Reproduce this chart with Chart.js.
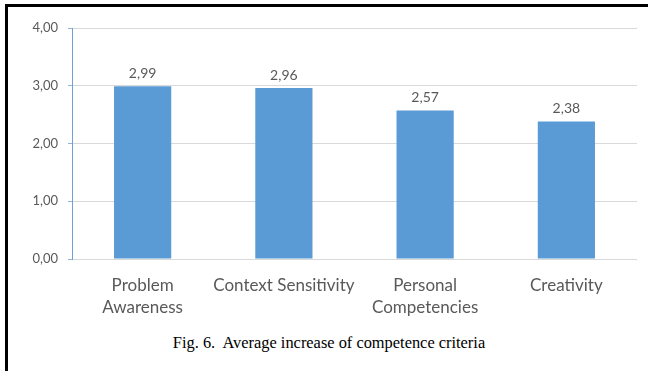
<!DOCTYPE html>
<html>
<head>
<meta charset="utf-8">
<script src="https://cdn.jsdelivr.net/npm/chart.js@4"></script>
<style>
  html, body { margin: 0; padding: 0; background: #fff; }
  body { width: 648px; height: 371px; position: relative; overflow: hidden; }
  #frame { position: absolute; left: 5px; top: 4px; width: 700px; height: 400px;
           border-left: 3px solid #000; border-top: 3px solid #000; }
  #wrap { position: absolute; left: 0; top: 0; width: 648px; height: 330px; }
  #caption { position: absolute; left: 0; width: 658px; top: 333px; text-align: center;
             font-family: "Liberation Serif", "Times New Roman", serif; font-size: 16.4px;
             color: #000; white-space: pre; }
</style>
</head>
<body>
<div id="frame"></div>
<div id="wrap"><canvas id="chart" width="648" height="330"></canvas></div>
<div id="caption">Fig. 6.  Average increase of competence criteria</div>
<script>
// Competence criteria and their average increase
const categories = [
  ['Problem', 'Awareness'],
  'Context Sensitivity',
  ['Personal', 'Competencies'],
  'Creativity'
];
const averageIncrease = [2.99, 2.96, 2.57, 2.38];
const yTicks = [0, 1, 2, 3, 4];

const fmt = v => v.toFixed(2).replace('.', ',');
const textGray = '#595959';
const barBlue = '#5b9bd5';
const font = 'Lato, "Open Sans", sans-serif';

// Writes each bar's value just above it
const valueLabels = {
  id: 'valueLabels',
  afterDatasetsDraw(chart) {
    const ctx = chart.ctx;
    const meta = chart.getDatasetMeta(0);
    ctx.save();
    ctx.fillStyle = textGray;
    ctx.font = '14px ' + font;
    ctx.textAlign = 'center';
    ctx.textBaseline = 'bottom';
    meta.data.forEach((bar, i) => {
      ctx.fillText(fmt(chart.data.datasets[0].data[i]), bar.x, bar.y - 6);
    });
    ctx.restore();
  }
};

new Chart(document.getElementById('chart'), {
  type: 'bar',
  data: {
    labels: categories,
    datasets: [{
      data: averageIncrease,
      backgroundColor: barBlue,
      borderWidth: 0,
      categoryPercentage: 1,
      barPercentage: 0.405
    }]
  },
  options: {
    responsive: false,
    animation: false,
    layout: { padding: { top: 28, right: 11, left: 0, bottom: 0 } },
    plugins: { legend: { display: false }, tooltip: { enabled: false } },
    scales: {
      y: {
        min: 0, max: 4,
        afterBuildTicks(scale) { scale.ticks = yTicks.map(v => ({ value: v })); },
        afterFit(scale) { scale.width = 72; },
        ticks: {
          color: textGray,
          font: { family: font, size: 13 },
          padding: 10,
          callback: v => fmt(v)
        },
        grid: { color: '#d9d9d9', lineWidth: 1, tickColor: '#8fb4de', tickLength: 4 },
        border: { display: true, color: '#6f9fd6', width: 1 }
      },
      x: {
        afterFit(scale) { scale.height = 71; },
        ticks: {
          color: textGray,
          font: { family: font, size: 17, lineHeight: 1.27 },
          padding: 8,
          maxRotation: 0,
          minRotation: 0,
          autoSkip: false
        },
        grid: { display: false },
        border: { display: false }
      }
    }
  },
  plugins: [valueLabels]
});
</script>
</body>
</html>
